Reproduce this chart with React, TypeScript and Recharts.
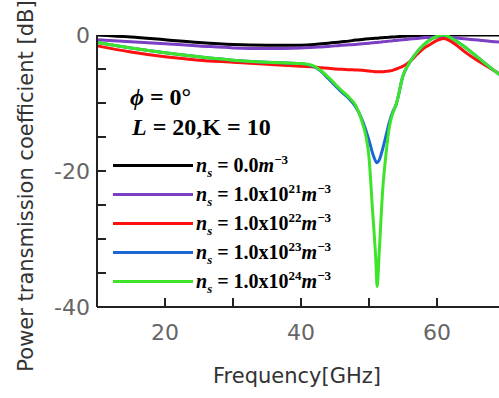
import { LineChart, Line, XAxis, YAxis, Legend } from "recharts";

// frequency samples [GHz]
const freq = [
  10, 15, 20, 25, 30, 35, 40, 42, 43, 44, 45, 46, 47, 48, 49, 50, 50.5, 51, 51.2, 51.5,
  52, 52.5, 53, 53.5, 54, 55, 56, 57, 58, 59, 60, 61, 62, 63, 64, 66, 68, 70,
];

// power transmission coefficient [dB] per electron density
const ns0 = [
  0, -0.3, -0.7, -1.1, -1.4, -1.5, -1.5, -1.4, -1.3, -1.2, -1.1, -1.0, -0.9, -0.75, -0.65, -0.55, -0.5, -0.47, -0.46, -0.44,
  -0.4, -0.37, -0.33, -0.3, -0.27, -0.2, -0.15, -0.1, -0.05, -0.02, 0, 0, 0, 0, 0, 0, 0, 0,
];
const ns21 = [
  -0.7, -1.0, -1.3, -1.6, -1.9, -2.0, -1.9, -1.8, -1.75, -1.7, -1.6, -1.5, -1.45, -1.4, -1.3, -1.2, -1.15, -1.1, -1.1, -1.05,
  -1.0, -0.95, -0.9, -0.85, -0.8, -0.7, -0.6, -0.5, -0.4, -0.35, -0.3, -0.3, -0.35, -0.45, -0.55, -0.75, -0.95, -1.1,
];
const ns22 = [
  -1.6, -2.5, -3.2, -3.7, -4.0, -4.3, -4.6, -4.7, -4.8, -4.9, -5.0, -5.05, -5.1, -5.15, -5.2, -5.3, -5.35, -5.4, -5.4, -5.4,
  -5.4, -5.35, -5.3, -5.2, -5.0, -4.6, -3.9, -2.9, -2.0, -1.4, -0.8, -0.5, -0.9, -1.6, -2.4, -3.8, -5.0, -6.2,
];
const ns23 = [
  -1.1, -1.9, -2.6, -3.2, -3.7, -4.0, -4.2, -4.7, -5.4, -6.4, -7.4, -8.4, -9.3, -10.5, -12.5, -15.5, -17.3, -18.6, -18.8, -18.4,
  -16.8, -14.8, -12.8, -11.3, -10.2, -6.0, -4.0, -2.6, -1.5, -0.7, -0.2, 0, -0.4, -1.0, -1.7, -3.3, -4.9, -6.4,
];
const ns24 = [
  -1.1, -1.9, -2.6, -3.2, -3.7, -4.0, -4.2, -4.6, -5.3, -6.2, -7.2, -8.2, -9.1, -10.3, -12.8, -18, -25.5, -33, -37, -32,
  -23, -17.5, -13.5, -11.5, -10.2, -6.0, -4.0, -2.6, -1.5, -0.7, -0.2, 0, -0.4, -1.0, -1.7, -3.3, -4.9, -6.4,
];

const seriesKeys = ["ns0", "ns21", "ns22", "ns23", "ns24"];
const seriesColors = ["#000000", "#7b3fc4", "#ff1010", "#1a66d4", "#3ee42a"];
const mantissas = ["0.0", "1.0x10", "1.0x10", "1.0x10", "1.0x10"];
const exponents = ["", "21", "22", "23", "24"];

const xTicks = [20, 30, 40, 50, 60];
const xLabels = [20, 40, 60];
const yTicks = [-40, -35, -30, -25, -20, -15, -10, -5, 0];
const yLabels = [-40, -20, 0];

const rows = freq.map((f, i) => ({
  f,
  ns0: ns0[i],
  ns21: ns21[i],
  ns22: ns22[i],
  ns23: ns23[i],
  ns24: ns24[i],
}));

const AXIS = "#222";
const SANS = "'DejaVu Sans', sans-serif";
const SERIF = "'Liberation Serif', 'Times New Roman', serif";
const tickText = { fontFamily: SANS, fontSize: 22, fill: "#666" };

function BottomTick({ x, y, payload }: any) {
  const v = payload.value;
  return (
    <g>
      <line x1={x} x2={x} y1={y} y2={y - 9} stroke={AXIS} strokeWidth={2} />
      {xLabels.includes(v) && (
        <text x={x} y={y + 33} textAnchor="middle" {...tickText}>
          {v}
        </text>
      )}
    </g>
  );
}

function TopTick({ x, y }: any) {
  return <line x1={x} x2={x} y1={y} y2={y + 9} stroke={AXIS} strokeWidth={2} />;
}

function LeftTick({ x, y, payload }: any) {
  const v = payload.value;
  const end = v === 0 || v === -40;
  return (
    <g>
      {!end && <line x1={x} x2={x + 9} y1={y} y2={y} stroke={AXIS} strokeWidth={2} />}
      {yLabels.includes(v) && (
        <text x={x - 7} y={y + 8} textAnchor="end" {...tickText}>
          {v}
        </text>
      )}
    </g>
  );
}

function RightTick({ x, y, payload }: any) {
  const v = payload.value;
  if (v === 0 || v === -40) return <g />;
  return <line x1={x - 10} x2={x} y1={y} y2={y} stroke={AXIS} strokeWidth={2} />;
}

function LegendBox({ payload }: any) {
  const rowTop = [165, 194, 223, 252, 281];
  return (
    <div style={{ position: "relative", fontFamily: SERIF, fontWeight: "bold", color: "#000" }}>
      <div style={{ position: "absolute", left: 130, top: 83, fontSize: 24, lineHeight: "28px", whiteSpace: "nowrap" }}>
        <i>ϕ</i> = 0°
      </div>
      <div style={{ position: "absolute", left: 132, top: 113, fontSize: 24, lineHeight: "28px", whiteSpace: "nowrap" }}>
        <i>L</i> = 20,K = 10
      </div>
      {(payload || []).map((p: any) => {
        const i = seriesKeys.indexOf(p.dataKey);
        return (
          <div
            key={p.dataKey}
            style={{
              position: "absolute",
              left: 113,
              top: rowTop[i] - 14,
              height: 28,
              display: "flex",
              alignItems: "center",
              whiteSpace: "nowrap",
            }}
          >
            <span style={{ display: "inline-block", width: 80, height: 3, background: p.color }} />
            <span style={{ marginLeft: 3, fontSize: 20, lineHeight: "28px" }}>
              <i>n</i>
              <sub style={{ fontSize: 13, lineHeight: 0 }}>
                <i>s</i>
              </sub>
              {" = "}
              {mantissas[i]}
              {exponents[i] && <sup style={{ fontSize: 13, lineHeight: 0 }}>{exponents[i]}</sup>}
              <i>m</i>
              <sup style={{ fontSize: 13, lineHeight: 0 }}>−3</sup>
            </span>
          </div>
        );
      })}
    </div>
  );
}

export default function App() {
  return (
    <div
      style={{
        position: "fixed",
        left: 0,
        top: 0,
        width: 499,
        height: 398,
        overflow: "hidden",
        background: "#fff",
      }}
    >
      <LineChart width={530} height={398} data={rows} margin={{ top: 35, right: 25, bottom: 0, left: 0 }}>
        <XAxis
          dataKey="f"
          type="number"
          domain={[10, 70]}
          ticks={xTicks}
          interval={0}
          height={91}
          tickSize={0}
          tickMargin={0}
          tickLine={false}
          axisLine={{ stroke: AXIS, strokeWidth: 2 }}
          tick={<BottomTick />}
          label={{
            content: () => (
              <text x={297} y={383} textAnchor="middle" fontFamily={SANS} fontSize={21} fill="#333">
                Frequency[GHz]
              </text>
            ),
          }}
        />
        <XAxis
          xAxisId="top"
          orientation="top"
          dataKey="f"
          type="number"
          domain={[10, 70]}
          ticks={xTicks}
          interval={0}
          height={0}
          tickSize={0}
          tickMargin={0}
          tickLine={false}
          axisLine={{ stroke: AXIS, strokeWidth: 2 }}
          tick={<TopTick />}
        />
        <YAxis
          type="number"
          domain={[-40, 0]}
          ticks={yTicks}
          interval={0}
          width={97}
          tickSize={0}
          tickMargin={0}
          tickLine={false}
          allowDataOverflow
          axisLine={{ stroke: AXIS, strokeWidth: 2 }}
          tick={<LeftTick />}
          label={{
            content: () => (
              <text
                x={33}
                y={186}
                transform="rotate(-90 33 186)"
                textAnchor="middle"
                fontFamily={SANS}
                fontSize={21}
                fill="#333"
              >
                Power transmission coefficient [dB]
              </text>
            ),
          }}
        />
        <YAxis
          yAxisId="right"
          orientation="right"
          type="number"
          domain={[-40, 0]}
          ticks={yTicks}
          interval={0}
          width={0}
          tickSize={0}
          tickMargin={0}
          tickLine={false}
          axisLine={{ stroke: AXIS, strokeWidth: 2 }}
          tick={<RightTick />}
        />
        <Legend
          layout="vertical"
          align="center"
          verticalAlign="middle"
          wrapperStyle={{ left: 0, top: 0, width: 499, height: 0 }}
          content={<LegendBox />}
        />
        {seriesKeys.map((k, i) => (
          <Line
            key={k}
            dataKey={k}
            type="monotone"
            stroke={seriesColors[i]}
            strokeWidth={3}
            dot={false}
            isAnimationActive={false}
          />
        ))}
      </LineChart>
    </div>
  );
}
